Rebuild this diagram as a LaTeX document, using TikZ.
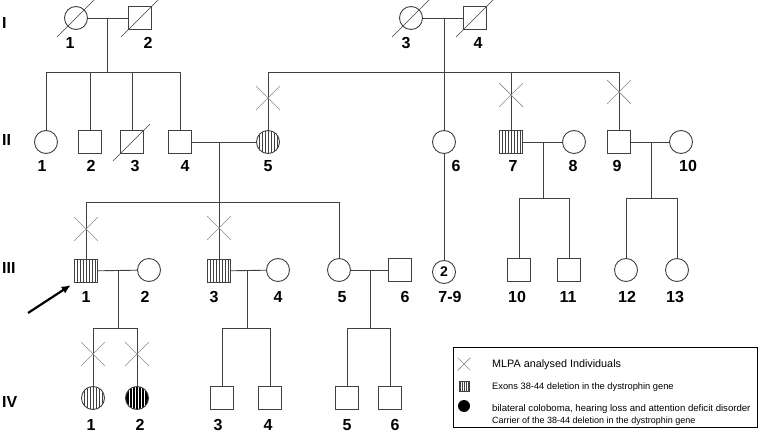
\documentclass[tikz,border=0pt]{standalone}
\usepackage{fontspec}
\setmainfont{Liberation Sans}
\usepackage{tikz}
\usetikzlibrary{shapes.misc,arrows.meta}
\definecolor{lineg}{HTML}{404040}
\definecolor{crossg}{HTML}{8A8A8A}
\tikzset{
  male/.style={draw=lineg, line width=0.9pt, minimum size=23pt, inner sep=0pt},
  female/.style={circle, draw=lineg, line width=0.9pt, minimum size=23pt, inner sep=0pt},
  hatched/.style={path picture={\foreach \hx in {#1}
      \draw[line width=0.7pt] ([xshift=\hx pt]path picture bounding box.south) -- ([xshift=\hx pt]path picture bounding box.north);}},
  hatched/.default={-9,-6,...,9},
  carrier/.style={fill=black, path picture={\foreach \hx in {-7.5,-4.5,...,7.5}
      \draw[white, line width=0.7pt] ([xshift=\hx pt]path picture bounding box.south) -- ([xshift=\hx pt]path picture bounding box.north);}},
  mlpa/.style={cross out, draw=crossg, line width=0.7pt, minimum size=23pt, inner sep=0pt},
  link/.style={draw=lineg, line width=0.9pt},
  dead/.style={draw=lineg, line width=0.7pt},
  lab/.style={font=\bfseries\fontsize{16}{16}\selectfont, inner sep=0pt},
  gen/.style={lab, anchor=west},
  keytext/.style={anchor=west, inner sep=0pt, font=\fontsize{9.3}{10}\selectfont},
}

\begin{document}
\begin{tikzpicture}[x=1pt,y=-1pt]
\useasboundingbox (0,0) rectangle (761,433);
% generation labels
\node[gen] (g1) at (2,23) {I};
\node[gen] (g2) at (2,140) {II};
\node[gen] (g3) at (2,268) {III};
\node[gen] (g4) at (2,402) {IV};
% generation I
\node[female] (i1) at (76,18) {};
\node[male] (i2) at (140,18) {};
\node[female] (i3) at (411,18) {};
\node[male] (i4) at (475,18) {};
\draw[dead] (i1.center) ++(-19,19) -- ++(37,-37);
\draw[dead] (i2.center) ++(-19,19) -- ++(37,-37);
\draw[dead] (i3.center) ++(-19,19) -- ++(37,-37);
\draw[dead] (i4.center) ++(-19,19) -- ++(37,-37);
\node[lab] (n-i1) at (70,43) {1};
\node[lab] (n-i2) at (148,43) {2};
\node[lab] (n-i3) at (406,43) {3};
\node[lab] (n-i4) at (478,43) {4};
\draw[link] (i1) -- (i2);
\draw[link] (i3) -- (i4);
\coordinate (m1) at (107,18);
\coordinate (b1) at (107,72);
\coordinate (m2) at (444,18);
\coordinate (b2) at (444,72);
% generation II
\node[female] (ii1) at (46,142) {};
\node[male] (ii2) at (90,142) {};
\node[male] (ii3) at (132,142) {};
\node[male] (ii4) at (180,142) {};
\node[female, hatched] (ii5) at (268,142) {};
\node[female] (ii6) at (444,142) {};
\node[male, hatched] (ii7) at (511,142) {};
\node[female] (ii8) at (574,142) {};
\node[male] (ii9) at (619,142) {};
\node[female] (ii10) at (681,142) {};
\draw[dead] (ii3.center) ++(-19,19) -- ++(37,-37);
\draw[link] (m1) -- (b1);
\draw[link] (b1) -| (ii1);
\draw[link] (b1) -| (ii2);
\draw[link] (b1) -| (ii3);
\draw[link] (b1) -| (ii4);
\draw[link] (m2) -- (b2);
\draw[link] (b2) -| (ii5);
\draw[link] (b2) -- (ii6);
\draw[link] (b2) -| (ii7);
\draw[link] (b2) -| (ii9);
\node[mlpa] (x-ii5) at (268,98) {};
\node[mlpa] (x-ii7) at (511,95) {};
\node[mlpa] (x-ii9) at (619,92) {};
\node[lab] (n-ii1) at (42,166) {1};
\node[lab] (n-ii2) at (91,166) {2};
\node[lab] (n-ii3) at (135,166) {3};
\node[lab] (n-ii4) at (185,166) {4};
\node[lab] (n-ii5) at (268,166) {5};
\node[lab] (n-ii6) at (456,166) {6};
\node[lab] (n-ii7) at (513,166) {7};
\node[lab] (n-ii8) at (573,166) {8};
\node[lab] (n-ii9) at (617,166) {9};
\node[lab] (n-ii10) at (688,166) {10};
\draw[link] (ii4) -- (ii5);
\draw[link] (ii7) -- (ii8);
\draw[link] (ii9) -- (ii10);
\coordinate (m3) at (219,142);
\coordinate (b3) at (219,202);
\coordinate (m4) at (543,142);
\coordinate (b4) at (543,198);
\coordinate (m5) at (651,142);
\coordinate (b5) at (651,198);
% generation III
\node[male, hatched] (iii1) at (86,271) {};
\node[female] (iii2) at (149,270) {};
\node[male, hatched] (iii3) at (219,271) {};
\node[female] (iii4) at (278,270) {};
\node[female] (iii5) at (339,270) {};
\node[male] (iii6) at (400,270) {};
\node[female, font=\bfseries\fontsize{14}{14}\selectfont] (iii79) at (444,272) {\raisebox{-2pt}{2}};
\node[male] (iii10) at (519,270) {};
\node[male] (iii11) at (569,270) {};
\node[female] (iii12) at (626,270) {};
\node[female] (iii13) at (677,270) {};
\draw[link] (m3) -- (b3);
\draw[link] (b3) -| (iii1);
\draw[link] (b3) -- (iii3);
\draw[link] (b3) -| (iii5);
\draw[link] (ii6) -- (iii79);
\draw[link] (m4) -- (b4);
\draw[link] (b4) -| (iii10);
\draw[link] (b4) -| (iii11);
\draw[link] (m5) -- (b5);
\draw[link] (b5) -| (iii12);
\draw[link] (b5) -| (iii13);
\node[mlpa] (x-iii1) at (86,229) {};
\node[mlpa] (x-iii3) at (219,228) {};
\node[lab] (n-iii1) at (86,297) {1};
\node[lab] (n-iii2) at (145,297) {2};
\node[lab] (n-iii3) at (214,297) {3};
\node[lab] (n-iii4) at (278,297) {4};
\node[lab] (n-iii5) at (342,297) {5};
\node[lab] (n-iii6) at (405,297) {6};
\node[lab] (n-iii79) at (450,297) {7-9};
\node[lab] (n-iii10) at (517,297) {10};
\node[lab] (n-iii11) at (568,297) {11};
\node[lab] (n-iii12) at (627,297) {12};
\node[lab] (n-iii13) at (675,297) {13};
\draw[link] (iii1) -- (iii2);
\draw[link] (iii3) -- (iii4);
\draw[link] (iii5) -- (iii6);
\coordinate (m6) at (118,270);
\coordinate (b6) at (118,328);
\coordinate (m7) at (247,270);
\coordinate (b7) at (247,328);
\coordinate (m8) at (370,270);
\coordinate (b8) at (370,328);
% proband
\coordinate (arrtail) at (28,313);
\draw[line width=2.2pt, -{Latex[length=9pt,width=8pt]}, shorten >=4pt] (arrtail) -- (iii1.south west);
% generation IV
\node[female, hatched] (iv1) at (93,398) {};
\node[female, carrier] (iv2) at (137,398) {};
\node[male] (iv3) at (222,398) {};
\node[male] (iv4) at (270,398) {};
\node[male] (iv5) at (347,398) {};
\node[male] (iv6) at (390,398) {};
\draw[link] (m6) -- (b6);
\draw[link] (b6) -| (iv1);
\draw[link] (b6) -| (iv2);
\draw[link] (m7) -- (b7);
\draw[link] (b7) -| (iv3);
\draw[link] (b7) -| (iv4);
\draw[link] (m8) -- (b8);
\draw[link] (b8) -| (iv5);
\draw[link] (b8) -| (iv6);
\node[mlpa] (x-iv1) at (93,354) {};
\node[mlpa] (x-iv2) at (137,354) {};
\node[lab] (n-iv1) at (91,425) {1};
\node[lab] (n-iv2) at (140,425) {2};
\node[lab] (n-iv3) at (218,425) {3};
\node[lab] (n-iv4) at (268,425) {4};
\node[lab] (n-iv5) at (347,425) {5};
\node[lab] (n-iv6) at (395,425) {6};
% legend
\node[draw=black, line width=1.2pt, anchor=north west, minimum width=304pt, minimum height=80pt, inner sep=0pt] (legend) at (453,347) {};
\node[mlpa, minimum size=12pt] (k1) at (464,364) {};
\node[male, hatched={-4,-2,...,4}, minimum size=10pt, line width=0.7pt] (k2) at (464,386) {};
\node[circle, fill=black, minimum size=12pt, inner sep=0pt] (k3) at (464,406) {};
\node[keytext, font=\fontsize{10.8}{11}\selectfont] (t1) at (492,365) {MLPA analysed Individuals};
\node[keytext] (t2) at (492,387) {Exons 38-44 deletion in the dystrophin gene};
\node[keytext, font=\fontsize{9.6}{10}\selectfont] (t3) at (492,409) {bilateral coloboma, hearing loss and attention deficit disorder};
\node[keytext, font=\fontsize{9}{10}\selectfont] (t4) at (492,421) {Carrier of the 38-44 deletion in the dystrophin gene};
\end{tikzpicture}
\end{document}
